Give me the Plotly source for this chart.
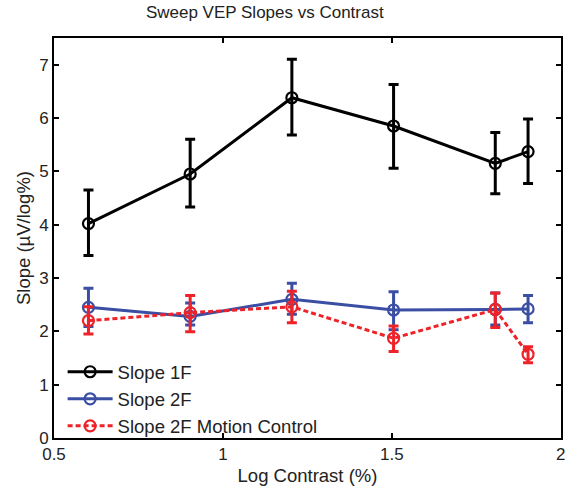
import plotly.graph_objects as go

x = [0.602, 0.903, 1.204, 1.505, 1.806, 1.903]

slope1f = [4.02, 4.95, 6.38, 5.85, 5.15, 5.37]
slope1f_hi = [4.65, 5.60, 7.10, 6.63, 5.73, 5.98]
slope1f_lo = [3.42, 4.33, 5.68, 5.06, 4.58, 4.77]

slope2f = [2.45, 2.28, 2.60, 2.40, 2.41, 2.42]
slope2f_hi = [2.81, 2.53, 2.90, 2.74, 2.72, 2.67]
slope2f_lo = [2.09, 2.12, 2.32, 2.03, 2.12, 2.16]

motion = [2.20, 2.35, 2.46, 1.87, 2.41, 1.57]
motion_hi = [2.46, 2.67, 2.75, 2.10, 2.72, 1.71]
motion_lo = [1.95, 1.99, 2.16, 1.62, 2.07, 1.41]

names = ["Slope 1F", "Slope 2F", "Slope 2F Motion Control"]
colors = ["#000000", "#3a4ea3", "#ee2229"]

FONT = "Liberation Sans, Arial"
TXT = "#222222"

fig = go.Figure()

for name, col, y, hi, lo, dash in [
    (names[0], colors[0], slope1f, slope1f_hi, slope1f_lo, "solid"),
    (names[1], colors[1], slope2f, slope2f_hi, slope2f_lo, "solid"),
    (names[2], colors[2], motion, motion_hi, motion_lo, "5px,3px"),
]:
    fig.add_trace(go.Scatter(
        x=x, y=y, name=name, mode="lines+markers",
        line=dict(color=col, width=3, dash=dash),
        marker=dict(symbol="circle-open", size=11, color=col, line=dict(width=2.2, color=col)),
        error_y=dict(type="data", symmetric=False,
                     array=[h - v for h, v in zip(hi, y)],
                     arrayminus=[v - l for v, l in zip(y, lo)],
                     color=col, thickness=3, width=5),
    ))

axis_common = dict(
    showline=True, linecolor="black", linewidth=2, mirror="ticks",
    ticks="inside", ticklen=5, tickwidth=2, tickcolor="black",
    showgrid=False, zeroline=False, ticklabeloverflow="allow", automargin=False,
    tickfont=dict(family=FONT, size=17, color=TXT),
)

fig.update_layout(
    width=567, height=491,
    margin=dict(l=54, r=6, t=38, b=53),
    paper_bgcolor="white", plot_bgcolor="white",
    title=dict(text="Sweep VEP Slopes vs Contrast", x=0.467, xanchor="center",
               y=0.988, yanchor="top",
               font=dict(family=FONT, size=17, color=TXT)),
    xaxis=dict(range=[0.5, 2.0005], tickvals=[0.5, 1, 1.5, 2], ticktext=["0.5", "1", "1.5", "2"],
               title=dict(text="Log Contrast (%)", standoff=6,
                          font=dict(family=FONT, size=18.5, color=TXT)),
               **axis_common),
    yaxis=dict(range=[0, 7.5], tickvals=list(range(8)),
               title=dict(text="Slope (µV/log%)", standoff=4,
                          font=dict(family=FONT, size=18.5, color=TXT)),
               **axis_common),
    legend=dict(x=0.017, y=-0.018, xanchor="left", yanchor="bottom",
                bgcolor="rgba(0,0,0,0)", tracegroupgap=0, itemwidth=45,
                font=dict(family=FONT, size=18.5, color=TXT)),
    showlegend=True,
)

fig.write_html("out.html")
